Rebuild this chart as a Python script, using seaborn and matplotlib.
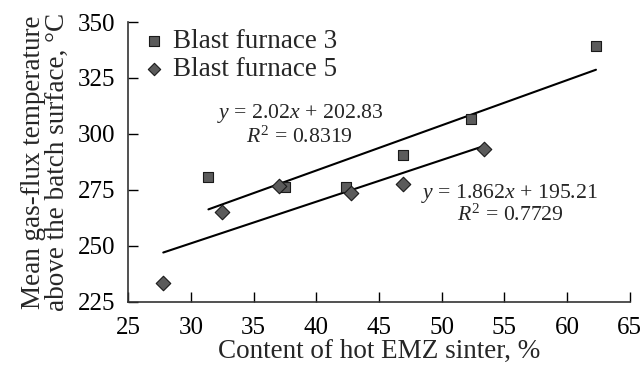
import matplotlib
matplotlib.use("Agg")
import matplotlib.pyplot as plt
import seaborn as sns
import numpy as np
import pandas as pd

# Data
bf3_x = [31.4, 37.5, 42.4, 46.9, 52.3, 62.3]
bf3_y = [280.6, 276.4, 276.3, 290.6, 306.8, 339.2]
bf5_x = [27.8, 32.5, 37.0, 42.8, 46.9, 53.4]
bf5_y = [233.4, 265.2, 276.6, 273.5, 277.6, 293.3]
series_names = ["Blast furnace 3", "Blast furnace 5"]
# Trendline equations printed on the chart
bf3_fit = (2.02, 202.83)
bf5_fit = (1.862, 195.21)
eq_labels = [r"$y$ = 2.02$x$ + 202.83", r"$R^2$ = 0.8319",
             r"$y$ = 1.862$x$ + 195.21", r"$R^2$ = 0.7729"]
x_ticks = [25, 30, 35, 40, 45, 50, 55, 60, 65]
y_ticks = [225, 250, 275, 300, 325, 350]

sns.set_theme(style="white")
plt.rcParams["font.family"] = ["Liberation Serif", "DejaVu Serif"]
plt.rcParams["mathtext.fontset"] = "custom"
plt.rcParams["mathtext.rm"] = "Liberation Serif"
plt.rcParams["mathtext.it"] = "Liberation Serif:italic"

fig = plt.figure(figsize=(6.44, 3.67), dpi=100)
ax = fig.add_axes([0.199, 0.178, 0.779, 0.762])

fs_tick = 18
fs_lab = 19.5
fs_ann = 15.7
face = "#5b5b5b"

d3 = pd.DataFrame({"x": bf3_x, "y": bf3_y})
d5 = pd.DataFrame({"x": bf5_x, "y": bf5_y})
sns.scatterplot(data=d3, x="x", y="y", marker="s", s=60, color=face,
                edgecolor="#1a1a1a", linewidth=0.8, ax=ax, label=series_names[0], zorder=3)
sns.scatterplot(data=d5, x="x", y="y", marker="D", s=55, color=face,
                edgecolor="#1a1a1a", linewidth=0.8, ax=ax, label=series_names[1], zorder=3)

# trend lines from the printed equations, spanning each series' x range
for xs, (m, b) in [(bf3_x, bf3_fit), (bf5_x, bf5_fit)]:
    lx = np.array([min(xs), max(xs)])
    sns.lineplot(x=lx, y=m * lx + b, color="black", linewidth=1.5, ax=ax,
                 legend=False, zorder=2)

ax.text(38.7, 308.9, eq_labels[0], ha="center", va="center", fontsize=fs_ann)
ax.text(38.7, 298.4, eq_labels[1], ha="center", va="center", fontsize=fs_ann)
ax.text(55.4, 273.5, eq_labels[2], ha="center", va="center", fontsize=fs_ann)
ax.text(55.5, 263.8, eq_labels[3], ha="center", va="center", fontsize=fs_ann)

ax.set_xlim(25, 65)
ax.set_ylim(225, 350)
ax.set_xticks(x_ticks)
ax.set_yticks(y_ticks)
ax.tick_params(axis="both", direction="in", length=7, width=1, labelsize=fs_tick,
               colors="black", left=True, bottom=True)
ax.tick_params(axis="x", pad=11)
ax.tick_params(axis="y", pad=9)
for s in ["top", "right"]:
    ax.spines[s].set_visible(False)
for s in ["left", "bottom"]:
    ax.spines[s].set_color("#333333")
    ax.spines[s].set_linewidth(1.2)

ax.set_xlabel("Content of hot EMZ sinter, %", fontsize=fs_lab, labelpad=0)
ax.set_ylabel("Mean gas-flux temperature\nabove the batch surface, °C",
              fontsize=fs_lab, labelpad=6, linespacing=0.95)

leg = ax.legend(loc="upper left", frameon=False, fontsize=fs_lab,
                handlelength=0.8, handletextpad=0.3, borderaxespad=0.0,
                labelspacing=0.12, bbox_to_anchor=(0.008, 1.015),
                markerscale=0.85)

fig.savefig("out.png", dpi=100)
